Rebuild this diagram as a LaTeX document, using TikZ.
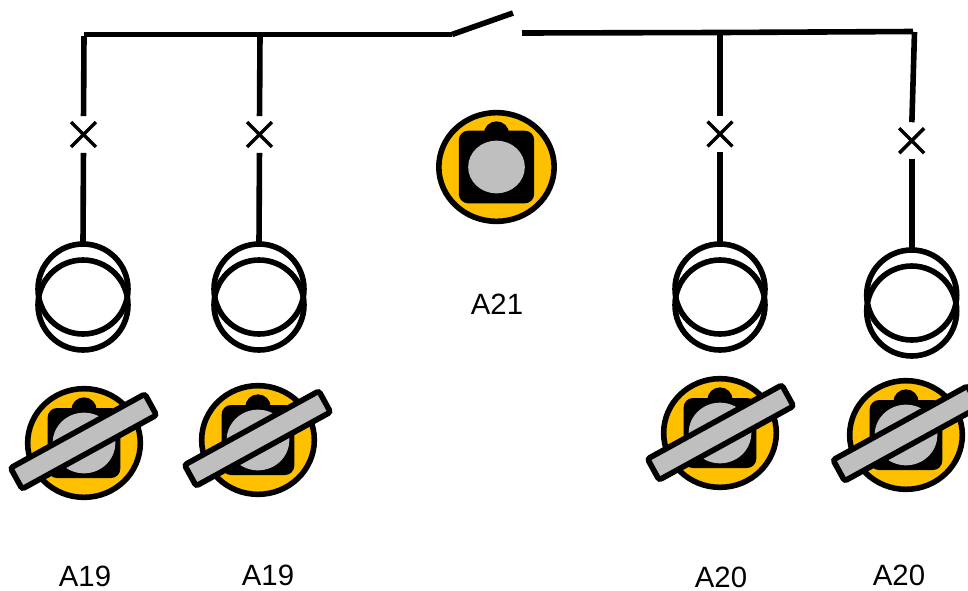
\documentclass[tikz,border=0pt]{standalone}
\usepackage{fontspec}
\setmainfont{Liberation Sans}
\usetikzlibrary{shapes.geometric,shapes.misc}
\definecolor{badgeyellow}{RGB}{255,192,0}
\definecolor{handlegray}{RGB}{191,191,191}
\tikzset{
  px/.style={x=0.75pt,y=-0.75pt},
  wire/.style={line width=4.2pt,black},
  towardfuse/.style={shorten >=4.5pt},
  fromfuse/.style={shorten <=4.5pt},
  fuse/.style={cross out,draw=black,line width=2.6pt,minimum size=18.7pt,inner sep=0pt,outer sep=0pt},
  coil/.style={circle,draw=black,line width=4.2pt,minimum size=67.5pt,inner sep=0pt,outer sep=0pt},
  badge/.style={ellipse,draw=black,fill=badgeyellow,line width=4.2pt,inner sep=0pt,outer sep=0pt,minimum width=84.5pt,minimum height=81.5pt},
  widebadge/.style={minimum width=86.5pt,minimum height=81.5pt},
  body/.style={rectangle,rounded corners=7pt,fill=black,inner sep=0pt,outer sep=0pt,minimum width=54.5pt,minimum height=52.5pt},
  widebody/.style={minimum width=56.5pt,minimum height=54.5pt},
  bump/.style={circle,fill=black,inner sep=0pt,outer sep=0pt,minimum size=19pt},
  knob/.style={ellipse,fill=handlegray,inner sep=0pt,outer sep=0pt,minimum width=47pt,minimum height=45.5pt},
  smallknob/.style={minimum width=42.5pt,minimum height=39.5pt},
  handle/.style={rectangle,rounded corners=2pt,draw=black,fill=handlegray,line width=4.2pt,inner sep=0pt,outer sep=0pt,minimum width=115pt,minimum height=18pt,rotate=28.8},
  label/.style={font=\fontsize{22pt}{26pt}\selectfont,inner sep=0pt}
}
\newcommand{\lockbadge}[6]{%
  \node[badge,#4] (#1b) at (#2,#3) {};
  \node[bump] (#1p) at (#2,#3-33) {};
  \node[body,#5] (#1r) at (#2,#3) {};
  \node[knob,#6] (#1k) at (#2,#3) {};
}
\begin{document}
\begin{tikzpicture}[px]
\useasboundingbox (0,0) rectangle (968,590);
% locks
\lockbadge{la}{84}{443}{}{}{}
\node[handle] (ha) at (83.5,441.5) {};
\lockbadge{lb}{258}{440}{}{}{}
\node[handle] (hb) at (257.5,438.5) {};
\lockbadge{lc}{720}{433}{}{}{}
\node[handle] (hc) at (720.5,432.5) {};
\lockbadge{ld}{906}{435}{}{}{}
\node[handle] (hd) at (906,433.5) {};
\lockbadge{lm}{496.5}{167}{widebadge}{widebody}{smallknob}
% transformers
\node[coil] (ta) at (83,289) {};
\node[coil] (tap) at (83,305) {};
\node[coil] (tb) at (259,289) {};
\node[coil] (tbp) at (259,305) {};
\node[coil] (tc) at (720,289) {};
\node[coil] (tcp) at (720,305) {};
\node[coil] (td) at (911.7,295) {};
\node[coil] (tdp) at (911.7,311) {};
% fuses
\node[fuse] (fa) at (83.5,134.5) {};
\node[fuse] (fb) at (259.5,134.5) {};
\node[fuse] (fc) at (720,134) {};
\node[fuse] (fd) at (911.7,140.7) {};
% bus
\coordinate (l0) at (84,34.5);
\coordinate (l1) at (260,34.5);
\coordinate (sw0) at (452,34.5);
\coordinate (sw1) at (513,13);
\coordinate (r0) at (522,33);
\coordinate (r1) at (720,32.5);
\coordinate (r2) at (913,31.5);
\coordinate (r3) at (914.5,32);
\draw[wire] (l0) -- (l1) -- (sw0);
\draw[wire] (sw0) -- (sw1);
\draw[wire] (r0) -- (r1) -- (r2);
\draw[wire,towardfuse] ([yshift=-1.2pt]l0) -- (fa.north);
\draw[wire,towardfuse] (l1) -- (fb.north);
\draw[wire,towardfuse] (r1) -- (fc.north);
\draw[wire,towardfuse] (r3) -- (fd.north);
\draw[wire,fromfuse] (fa.south) -- (ta.north);
\draw[wire,fromfuse] (fb.south) -- (tb.north);
\draw[wire,fromfuse] (fc.south) -- (tc.north);
\draw[wire,fromfuse] (fd.south) -- (td.north);
% labels
\node[label] (ta1) at (85,576.5) {A19};
\node[label] (ta2) at (268,575) {A19};
\node[label] (tm) at (497,304) {A21};
\node[label] (tc1) at (721,577) {A20};
\node[label] (tc2) at (899,575.5) {A20};
\end{tikzpicture}
\end{document}
